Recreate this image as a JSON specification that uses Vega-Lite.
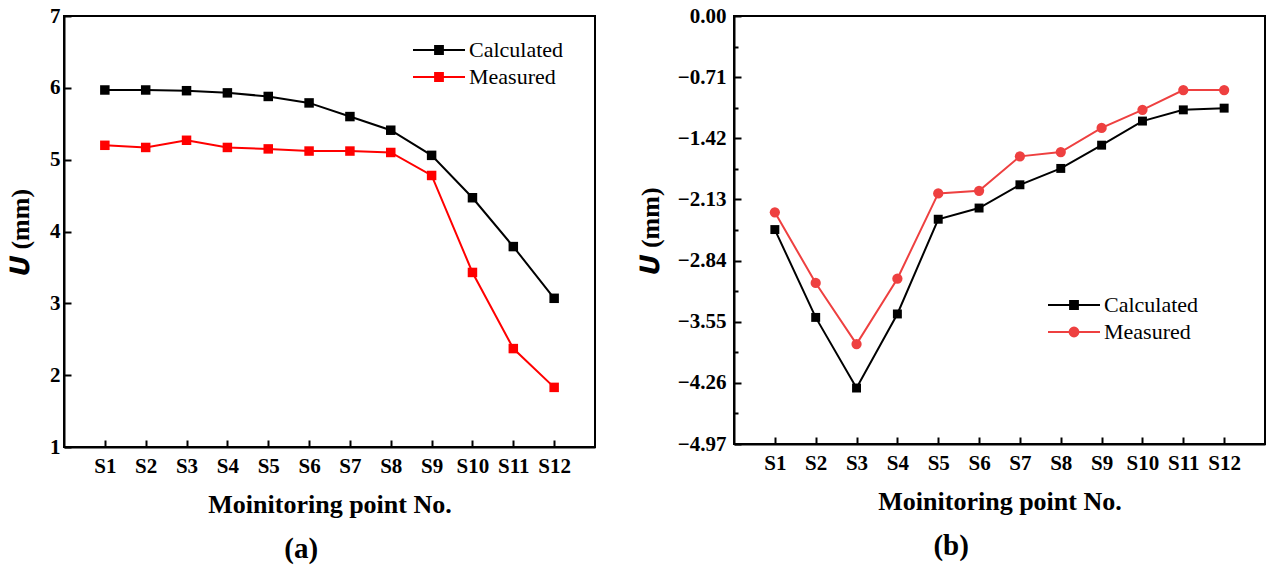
{
  "$schema": "https://vega.github.io/schema/vega-lite/v6.json",
  "padding": {"left": 6, "top": 4, "right": 0, "bottom": 0},
  "background": "white",
  "datasets": {
    "a": [
      {"pt": "S1", "series": "Calculated", "u": 5.97},
      {"pt": "S2", "series": "Calculated", "u": 5.97},
      {"pt": "S3", "series": "Calculated", "u": 5.96},
      {"pt": "S4", "series": "Calculated", "u": 5.93},
      {"pt": "S5", "series": "Calculated", "u": 5.88},
      {"pt": "S6", "series": "Calculated", "u": 5.79},
      {"pt": "S7", "series": "Calculated", "u": 5.60},
      {"pt": "S8", "series": "Calculated", "u": 5.41},
      {"pt": "S9", "series": "Calculated", "u": 5.06},
      {"pt": "S10", "series": "Calculated", "u": 4.47},
      {"pt": "S11", "series": "Calculated", "u": 3.79},
      {"pt": "S12", "series": "Calculated", "u": 3.07},
      {"pt": "S1", "series": "Measured", "u": 5.20},
      {"pt": "S2", "series": "Measured", "u": 5.17},
      {"pt": "S3", "series": "Measured", "u": 5.27},
      {"pt": "S4", "series": "Measured", "u": 5.17},
      {"pt": "S5", "series": "Measured", "u": 5.15},
      {"pt": "S6", "series": "Measured", "u": 5.12},
      {"pt": "S7", "series": "Measured", "u": 5.12},
      {"pt": "S8", "series": "Measured", "u": 5.10},
      {"pt": "S9", "series": "Measured", "u": 4.78},
      {"pt": "S10", "series": "Measured", "u": 3.43},
      {"pt": "S11", "series": "Measured", "u": 2.37},
      {"pt": "S12", "series": "Measured", "u": 1.83}
    ],
    "b": [
      {"pt": "S1", "series": "Calculated", "u": -2.48},
      {"pt": "S2", "series": "Calculated", "u": -3.50},
      {"pt": "S3", "series": "Calculated", "u": -4.32},
      {"pt": "S4", "series": "Calculated", "u": -3.46},
      {"pt": "S5", "series": "Calculated", "u": -2.36},
      {"pt": "S6", "series": "Calculated", "u": -2.23},
      {"pt": "S7", "series": "Calculated", "u": -1.96},
      {"pt": "S8", "series": "Calculated", "u": -1.77},
      {"pt": "S9", "series": "Calculated", "u": -1.50},
      {"pt": "S10", "series": "Calculated", "u": -1.22},
      {"pt": "S11", "series": "Calculated", "u": -1.09},
      {"pt": "S12", "series": "Calculated", "u": -1.07},
      {"pt": "S1", "series": "Measured", "u": -2.28},
      {"pt": "S2", "series": "Measured", "u": -3.10},
      {"pt": "S3", "series": "Measured", "u": -3.81},
      {"pt": "S4", "series": "Measured", "u": -3.05},
      {"pt": "S5", "series": "Measured", "u": -2.06},
      {"pt": "S6", "series": "Measured", "u": -2.03},
      {"pt": "S7", "series": "Measured", "u": -1.63},
      {"pt": "S8", "series": "Measured", "u": -1.58},
      {"pt": "S9", "series": "Measured", "u": -1.30},
      {"pt": "S10", "series": "Measured", "u": -1.09},
      {"pt": "S11", "series": "Measured", "u": -0.86},
      {"pt": "S12", "series": "Measured", "u": -0.86}
    ]
  },
  "spacing": 40,
  "resolve": {"scale": {"color": "independent", "x": "independent", "y": "independent"}},
  "hconcat": [
    {
      "width": 531,
      "height": 431,
      "data": {"name": "a"},
      "title": {"text": "(a)", "orient": "bottom", "offset": 18, "frame": "bounds"},
      "encoding": {
        "x": {
          "field": "pt", "type": "ordinal",
          "sort": ["S1","S2","S3","S4","S5","S6","S7","S8","S9","S10","S11","S12"],
          "scale": {"type": "point", "padding": 1},
          "axis": {"title": "Moinitoring point No.", "labelAngle": 0, "tickSize": -7, "labelPadding": 15, "titlePadding": 15}
        },
        "y": {
          "field": "u", "type": "quantitative",
          "scale": {"domain": [1, 7], "zero": false, "nice": false},
          "axis": {
            "title": "𝑼 (mm)",
            "format": "d",
            "values": [1, 1.5, 2, 2.5, 3, 3.5, 4, 4.5, 5, 5.5, 6, 6.5, 7],
            "labelExpr": "datum.value % 1 === 0 ? datum.label : ''",
            "tickSize": {"condition": {"test": "datum.value % 1 === 0", "value": -7}, "value": -4},
            "labelPadding": 11,
            "titlePadding": 16
          }
        },
        "color": {
          "field": "series", "type": "nominal",
          "scale": {"domain": ["Calculated", "Measured"], "range": ["#000000", "#ff0000"]},
          "legend": {
            "title": null, "orient": "none", "legendX": 361, "legendY": 20,
            "symbolType": "M-2,0H2M-0.3,-0.3H0.3V0.3H-0.3Z",
            "symbolSize": 676, "symbolStrokeWidth": 2, "labelOffset": 16,
            "rowPadding": 2, "padding": 0,
            "encode": {"symbols": {"update": {
              "stroke": {"signal": "datum.value === 'Calculated' ? '#000000' : '#ff0000'"},
              "fill": {"signal": "datum.value === 'Calculated' ? '#000000' : '#ff0000'"},
              "opacity": {"value": 1}}}}
          }
        }
      },
      "layer": [
        {"mark": {"type": "line", "strokeWidth": 2}},
        {"mark": {"type": "point", "filled": true, "shape": "square", "size": 90, "opacity": 1}}
      ]
    },
    {
      "width": 531,
      "height": 428,
      "data": {"name": "b"},
      "title": {"text": "(b)", "orient": "bottom", "offset": 18, "frame": "bounds"},
      "encoding": {
        "x": {
          "field": "pt", "type": "ordinal",
          "sort": ["S1","S2","S3","S4","S5","S6","S7","S8","S9","S10","S11","S12"],
          "scale": {"type": "point", "padding": 1},
          "axis": {"title": "Moinitoring point No.", "labelAngle": 0, "tickSize": -7, "labelPadding": 15, "titlePadding": 15}
        },
        "y": {
          "field": "u", "type": "quantitative",
          "scale": {"domain": [-4.97, 0], "zero": false, "nice": false},
          "axis": {
            "title": "𝑼 (mm)",
            "values": [0, -0.355, -0.71, -1.065, -1.42, -1.775, -2.13, -2.485, -2.84, -3.195, -3.55, -3.905, -4.26, -4.615, -4.97],
            "labelExpr": "indexof([0, -0.71, -1.42, -2.13, -2.84, -3.55, -4.26, -4.97], datum.value) >= 0 ? format(datum.value, '.2f') : ''",
            "tickSize": {"condition": {"test": "indexof([0, -0.71, -1.42, -2.13, -2.84, -3.55, -4.26, -4.97], datum.value) >= 0", "value": -7}, "value": -4},
            "labelPadding": 15,
            "titlePadding": 14
          }
        },
        "color": {
          "field": "series", "type": "nominal",
          "scale": {"domain": ["Calculated", "Measured"], "range": ["#000000", "#ee4040"]},
          "legend": {
            "title": null, "orient": "none", "legendX": 326, "legendY": 275,
            "symbolType": "M-2,0H2M-0.3,-0.3H0.3V0.3H-0.3Z",
            "symbolSize": 676, "symbolStrokeWidth": 2, "labelOffset": 16,
            "rowPadding": 2, "padding": 0,
            "encode": {"symbols": {"update": {
              "shape": {"signal": "datum.value === 'Calculated' ? 'M-2,0H2M-0.3,-0.3H0.3V0.3H-0.3Z' : 'M-2,0H2M-0.34,0A0.34,0.34,0,1,1,0.34,0A0.34,0.34,0,1,1,-0.34,0Z'"},
              "stroke": {"signal": "datum.value === 'Calculated' ? '#000000' : '#ee4040'"},
              "fill": {"signal": "datum.value === 'Calculated' ? '#000000' : '#ee4040'"},
              "opacity": {"value": 1}}}}
          }
        }
      },
      "layer": [
        {"mark": {"type": "line", "strokeWidth": 2}},
        {
          "mark": {"type": "point", "filled": true, "opacity": 1},
          "encoding": {
            "shape": {"field": "series", "type": "nominal", "scale": {"domain": ["Calculated", "Measured"], "range": ["square", "circle"]}, "legend": null},
            "size": {"field": "series", "type": "nominal", "scale": {"domain": ["Calculated", "Measured"], "range": [80, 105]}, "legend": null}
          }
        }
      ]
    }
  ],
  "config": {
    "font": "Liberation Serif",
    "view": {"stroke": "#000000", "strokeWidth": 2},
    "axis": {
      "grid": false,
      "domainColor": "#000000", "domainWidth": 2,
      "tickColor": "#000000", "tickWidth": 2,
      "labelFont": "Liberation Serif", "labelFontSize": 21, "labelFontWeight": "bold", "labelColor": "#000000",
      "titleFont": "Liberation Serif", "titleFontSize": 26, "titleFontWeight": "bold", "titleColor": "#000000"
    },
    "legend": {"labelFont": "Liberation Serif", "labelFontSize": 22, "labelColor": "#000000"},
    "title": {"font": "Liberation Serif", "fontSize": 29, "fontWeight": "bold", "color": "#000000"}
  }
}
